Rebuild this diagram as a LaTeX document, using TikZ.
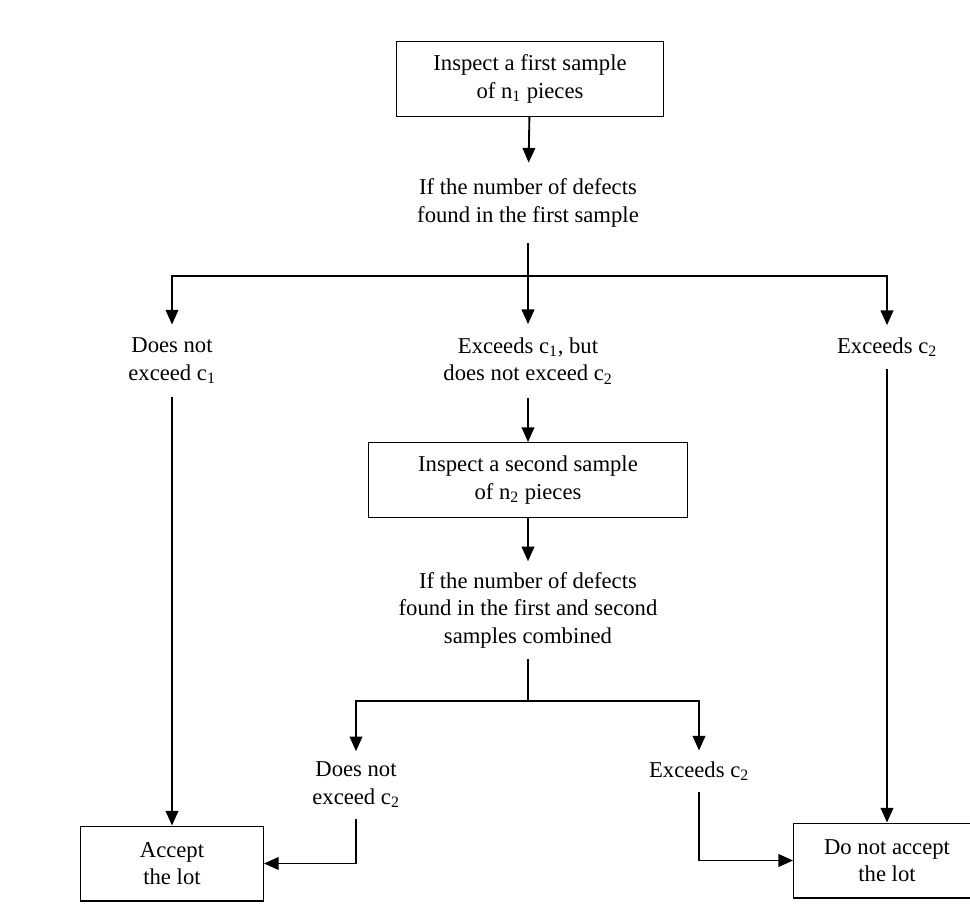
\documentclass[tikz,border=0pt]{standalone}
\usepackage{fontspec}
\setmainfont{Liberation Serif}
\usetikzlibrary{arrows.meta}

\begin{document}
\begin{tikzpicture}[x=0.75pt,y=0.75pt,yscale=-1,xscale=1,
	box/.style={draw,line width=1pt,align=center,minimum height=56pt,inner sep=0.75pt},
	txt/.style={align=center,inner sep=8pt},
	arr/.style={line width=1.4pt,-{Triangle[length=11pt,width=9.5pt]}},
	ln/.style={line width=1.4pt}]
	\useasboundingbox (0,0) rectangle (970,920);
	\fontsize{17}{20.6}\selectfont
	
	%Shape: Rectangle
	\node [box,minimum width=200pt] (first) at (530,79) {Inspect a first sample\\of n\textsubscript{1} pieces};
	% Text Node
	\node [txt,inner sep=12pt] (ask1) at (528,203) {If the number of defects\\found in the first sample};
	% Text Node
	\node [txt,inner sep=10pt] (low1) at (172,361) {Does not\\exceed c\textsubscript{1}};
	% Text Node
	\node [txt,inner sep=10pt] (mid1) at (528,361) {Exceeds c\textsubscript{1}, but\\does not exceed c\textsubscript{2}};
	% Text Node
	\node [txt,inner sep=9pt] (high1) at (887,347) {Exceeds c\textsubscript{2}};
	%Shape: Rectangle
	\node [box,minimum width=239pt] (second) at (528,480) {Inspect a second sample\\of n\textsubscript{2} pieces};
	% Text Node
	\node [txt] (ask2) at (528,610) {If the number of defects\\found in the first and second\\samples combined};
	% Text Node
	\node [txt] (low2) at (356,785) {Does not\\exceed c\textsubscript{2}};
	% Text Node
	\node [txt] (high2) at (699,771) {Exceeds c\textsubscript{2}};
	%Shape: Rectangle
	\node [box,minimum width=137pt] (accept) at (172,863.5) {Accept\\the lot};
	%Shape: Rectangle
	\node [box,minimum width=140pt] (reject) at (887,860.5) {Do not accept\\the lot};
	
	\coordinate (fork1) at (528,276);
	\coordinate (fork2) at (528,701);
	
	%Straight Lines
	\draw [arr] (first) -- (ask1);
	\draw [ln] (ask1) -- (fork1);
	\draw [arr] (fork1) -| (low1);
	\draw [arr] (fork1) -- (mid1);
	\draw [arr] (fork1) -| (high1);
	\draw [arr] (low1) -- (accept);
	\draw [arr] (mid1) -- (second);
	\draw [arr] (high1) -- (reject);
	\draw [arr] (second) -- (ask2);
	\draw [ln] (ask2) -- (fork2);
	\draw [arr] (fork2) -| (low2);
	\draw [arr] (fork2) -| (high2);
	\draw [arr] (low2.south) |- (accept.east);
	\draw [arr] (high2.south) |- (reject.west);
	
\end{tikzpicture}
\end{document}
